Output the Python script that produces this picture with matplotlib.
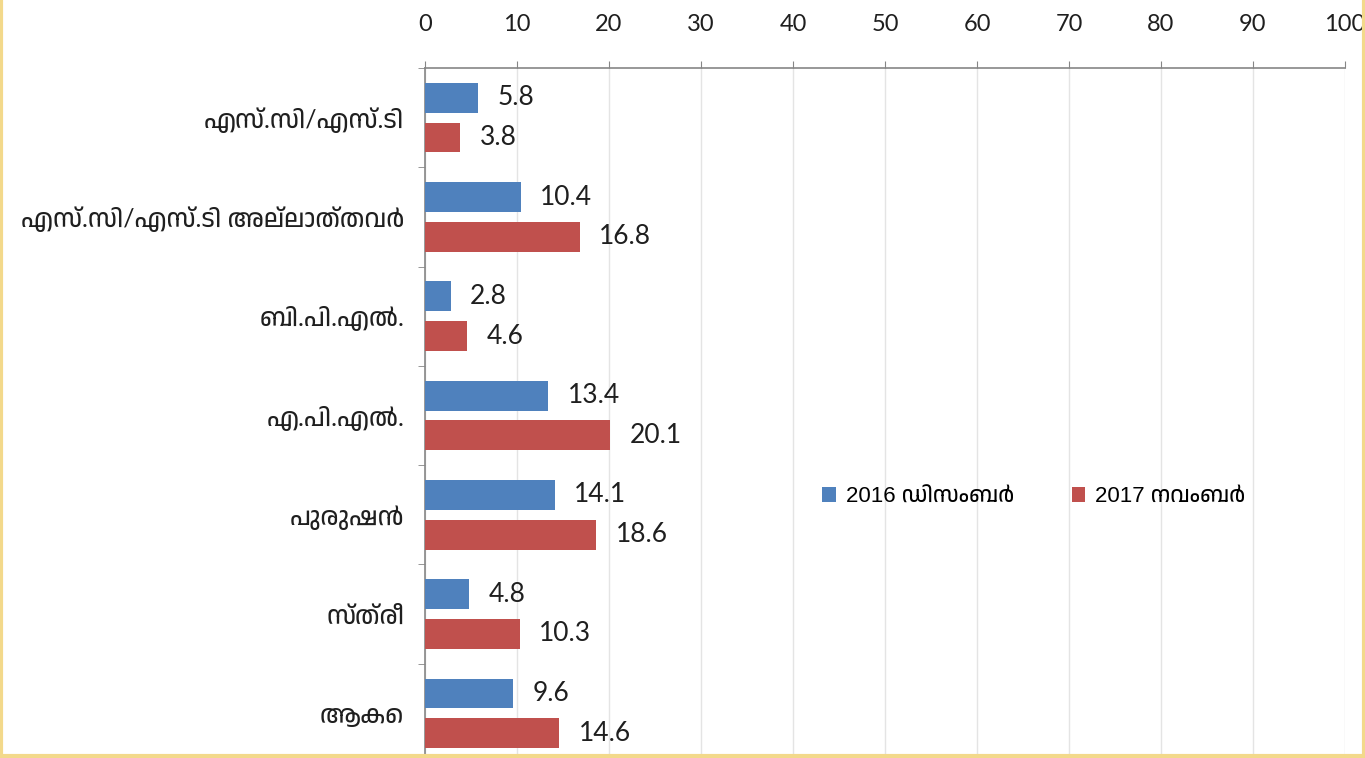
import numpy as np
import matplotlib
matplotlib.use("Agg")
import matplotlib.pyplot as plt
from matplotlib import font_manager
from matplotlib.ft2font import FT2Font
from matplotlib.lines import Line2D

# ====== dados ======
categories = ["എസ്.സി/എസ്.ടി", "എസ്.സി/എസ്.ടി അല്ലാത്തവർ", "ബി.പി.എൽ.",
              "എ.പി.എൽ.", "പുരുഷൻ", "സ്ത്രീ", "ആകെ"]
dec_2016 = [5.8, 10.4, 2.8, 13.4, 14.1, 4.8, 9.6]
nov_2017 = [3.8, 16.8, 4.6, 20.1, 18.6, 10.3, 14.6]
series_names = ["2016 ഡിസംബർ", "2017 നവംബർ"]
xticks = list(range(0, 101, 10))

# ====== fonte com glifos malaiala, se houver ======
cands = []
for f in font_manager.fontManager.ttflist:
    try:
        if 0x0D0E in FT2Font(f.fname).get_charmap():
            cands.append(f.name)
    except Exception:
        pass
cands = sorted(set(cands), key=lambda n: ("Malayalam" not in n, "Mono" in n, "Serif" in n, n))
ml = cands[:1]

blue = "#4F81BD"
red = "#C0504D"
grey = "#868686"
txt = "#1F1F1F"

fig = plt.figure(figsize=(13.65, 7.58), dpi=100)
ax = fig.add_axes([425 / 1365, -5 / 758, 920 / 1365, 695 / 758])

y = np.arange(len(categories))
h = 0.30
ax.barh(y - 0.2, dec_2016, height=h, color=blue, label=series_names[0], zorder=3)
ax.barh(y + 0.2, nov_2017, height=h, color=red, label=series_names[1], zorder=3)

for yi, v in zip(y, dec_2016):
    ax.annotate(f"{v}", (v, yi - 0.2), xytext=(14, 0), textcoords="offset points",
                va="center", ha="left", fontsize=19, color=txt, family=["Lato", "DejaVu Sans"])
for yi, v in zip(y, nov_2017):
    ax.annotate(f"{v}", (v, yi + 0.2), xytext=(14, 0), textcoords="offset points",
                va="center", ha="left", fontsize=19, color=txt, family=["Lato", "DejaVu Sans"])

ax.set_xlim(0, 100)
ax.set_ylim(len(categories) - 0.5, -0.5)

ax.xaxis.tick_top()
ax.set_xticks(xticks)
ax.set_xticklabels([str(t) for t in xticks], fontsize=17, color=txt, family=["Lato", "DejaVu Sans"])
ax.tick_params(axis="x", direction="out", length=5, color=grey, pad=19)
ax.grid(axis="x", color="#E4E4E4", lw=1, zorder=0)

ax.set_yticks(y)
ax.set_yticklabels(categories, fontsize=18, color=txt, family=["Lato"] + ml + ["DejaVu Sans"])
ax.tick_params(axis="y", length=0, pad=15)
ax.set_yticks(np.arange(len(categories) + 1) - 0.5, minor=True)
ax.tick_params(axis="y", which="minor", length=5, color=grey)

for s in ["bottom", "right"]:
    ax.spines[s].set_visible(False)
for s in ["top", "left"]:
    ax.spines[s].set_color(grey)
    ax.spines[s].set_linewidth(1.2)

ax.legend(loc="center left", bbox_to_anchor=(0.41, 0.383), ncol=2, frameon=False,
          prop={"family": ["Liberation Sans"] + ml + ["DejaVu Sans"], "size": 16},
          handlelength=0.6, handleheight=0.6, handletextpad=0.45, columnspacing=2.6)

# moldura amarela
bc = "#F3D98B"
fig.add_artist(Line2D([0.001, 0.001], [0, 1], transform=fig.transFigure, color=bc, lw=3))
fig.add_artist(Line2D([0.999, 0.999], [0, 1], transform=fig.transFigure, color=bc, lw=3))
fig.add_artist(Line2D([0, 1], [0.002, 0.002], transform=fig.transFigure, color=bc, lw=3))

fig.savefig("out.png", dpi=100)
